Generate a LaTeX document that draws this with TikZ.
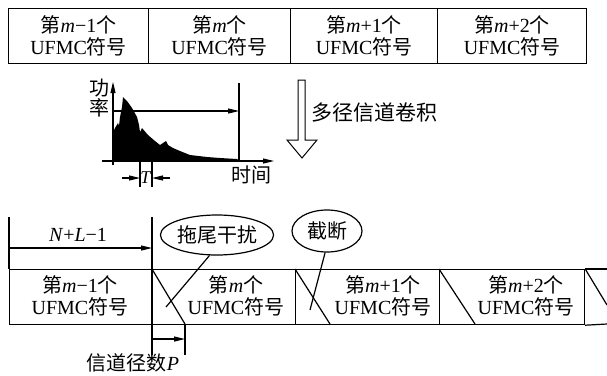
\documentclass[tikz,border=0pt]{standalone}
\usepackage{fontspec}
\setmainfont{Liberation Serif}
\newfontfamily\cjk{Noto Sans CJK SC}
\usetikzlibrary{arrows.meta,shapes.geometric}
\newcommand\zh[1]{{\cjk #1}}
\begin{document}
\begin{tikzpicture}[x=1pt,y=-1pt,line width=1.2pt,
  box/.style={draw,anchor=north west,inner sep=0pt,minimum height=55pt},
  txt/.style={align=center,inner sep=0pt,font=\fontsize{20}{22}\selectfont},
  lbl/.style={inner sep=0pt,font=\fontsize{20}{22}\selectfont},
  arr/.style={-{Triangle[length=11pt,width=5pt]}},
  callout/.style={draw,ellipse,inner sep=0pt,font=\fontsize{20}{22}\selectfont}]
\useasboundingbox (0,0) rectangle (607,375);
% top row
\node[box,minimum width=140pt] (t1) at (8,8) {};
\node[box,minimum width=142pt] (t2) at (148,8) {};
\node[box,minimum width=147pt] (t3) at (290,8) {};
\node[box,minimum width=149pt] (t4) at (437,8) {};
\node[txt] (tt1) at (t1.center) {\zh{第}\textit{m}−1\zh{个}\\UFMC\zh{符号}};
\node[txt] (tt2) at (t2.center) {\zh{第}\textit{m}\zh{个}\\UFMC\zh{符号}};
\node[txt] (tt3) at (t3.center) {\zh{第}\textit{m}+1\zh{个}\\UFMC\zh{符号}};
\node[txt] (tt4) at (t4.center) {\zh{第}\textit{m}+2\zh{个}\\UFMC\zh{符号}};
% power profile
\fill (113,161) -- (114,130) -- (115,128) -- (118,123) -- (119,126) -- (120,117) -- (122,107) -- (123,97) -- (127,101) -- (132,108) -- (137,117) -- (139,125) -- (140,132) -- (142,128) -- (148,135) -- (155,141) -- (160,145) -- (166,141) -- (168,145) -- (173,148) -- (180,151) -- (190,155) -- (207,157) -- (220,158) -- (237,159) -- (239,161) -- cycle;
\coordinate (yb) at (113,165);
\coordinate (yt) at (113,82);
\coordinate (xl) at (102,161);
\coordinate (xr) at (274,161);
\draw[arr] (yb) -- (yt);
\draw[arr] (xl) -- (xr);
\node[lbl,align=center,font=\fontsize{20}{20}\selectfont] (pw) at (99,98) {\zh{功}\\\zh{率}};
\node[lbl] (tm) at (251,175) {\zh{时间}};
\coordinate (ht) at (239,83);
\coordinate (hb) at (239,161);
\draw (ht) -- (hb);
\coordinate (hs) at (113,111);
\coordinate (he) at (239,111);
\draw[arr] (hs) -- (he);
% T marker
\coordinate (ta) at (140,161); \coordinate (tb) at (140,187);
\coordinate (tc) at (152,161); \coordinate (td) at (152,187);
\draw (ta) -- (tb); \draw (tc) -- (td);
\coordinate (l1) at (122,178); \coordinate (l2) at (140,178);
\coordinate (r1) at (170,178); \coordinate (r2) at (152,178);
\draw[arr] (l1) -- (l2);
\draw[arr] (r1) -- (r2);
\node[lbl,font=\fontsize{18}{20}\selectfont] (T) at (146,178) {\textit{T}};
% hollow arrow
\draw[line width=1pt] (298,80) -- (305,80) -- (305,140) -- (317,140) -- (302,158) -- (287,140) -- (298,140) -- cycle;
\node[lbl,anchor=west,font=\fontsize{21}{24}\selectfont] (mc) at (311,113) {\zh{多径信道卷积}};
% bottom row
\node[box,minimum width=143pt] (b1) at (9,269) {};
\node[box,minimum width=143pt] (b2) at (152,269) {};
\node[box,minimum width=144pt] (b3) at (295,269) {};
\node[box,minimum width=145pt] (b4) at (439,269) {};
\coordinate (e1) at (607,269);
\coordinate (e2) at (607,324);
\draw (b4.north east) -- (e1);
\draw (b4.south east) -- (e2);
\node[txt] (bt1) at (80,296) {\zh{第}\textit{m}−1\zh{个}\\UFMC\zh{符号}};
\node[txt] (bt2) at (236,296) {\zh{第}\textit{m}\zh{个}\\UFMC\zh{符号}};
\node[txt] (bt3) at (383,296) {\zh{第}\textit{m}+1\zh{个}\\UFMC\zh{符号}};
\node[txt] (bt4) at (526,296) {\zh{第}\textit{m}+2\zh{个}\\UFMC\zh{符号}};
% diagonals
\coordinate (d1) at (185,324);
\coordinate (d2) at (330,324);
\coordinate (d3) at (475,324);
\coordinate (d4) at (607,305);
\draw (b2.north west) -- (d1);
\draw (b3.north west) -- (d2);
\draw (b4.north west) -- (d3);
\draw (b4.north east) -- (d4);
% N+L-1
\coordinate (n1) at (9,217);
\coordinate (n2) at (152,217);
\coordinate (n3) at (152,355);
\draw (n1) -- (b1.north west);
\draw (n2) -- (n3);
\coordinate (na) at (9,248);
\coordinate (nb) at (152,248);
\draw[arr] (na) -- (nb);
\node[lbl] (nl) at (78,235) {\textit{N}+\textit{L}−1};
% P
\coordinate (p1) at (185,355);
\draw (d1) -- (p1);
\coordinate (pa) at (152,339);
\coordinate (pb) at (185,339);
\draw[arr] (pa) -- (pb);
\node[lbl] (pl) at (133,363) {\zh{信道径数}\textit{P}};
% callouts
\node[callout,minimum width=100pt,minimum height=40pt] (c1) at (217,235) {\zh{拖尾干扰}};
\node[callout,minimum width=70pt,minimum height=42pt] (c2) at (327,231) {\zh{截断}};
\coordinate (c1e) at (166,307);
\coordinate (c2e) at (310,310);
\draw (c1.250) -- (c1e);
\draw (c2.265) -- (c2e);
\end{tikzpicture}
\end{document}
